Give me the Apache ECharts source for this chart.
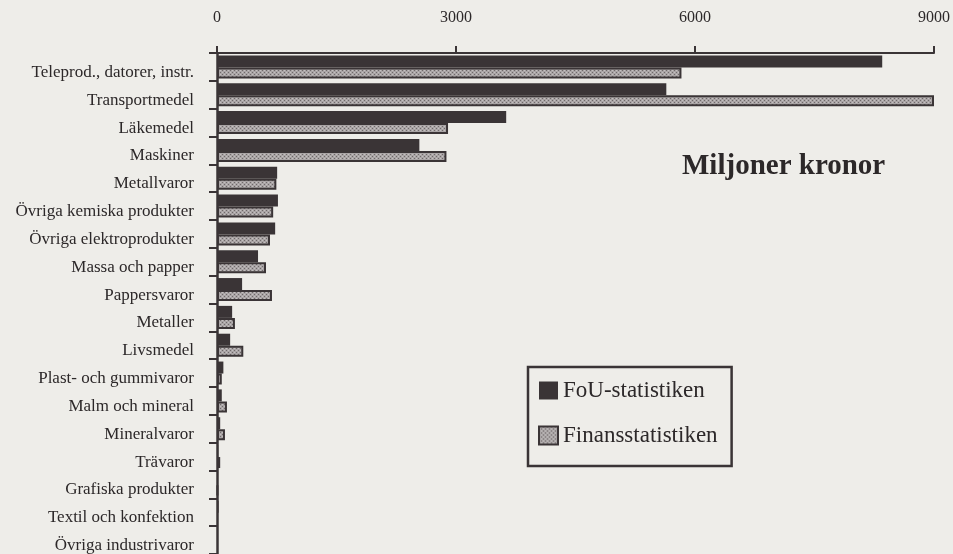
<!DOCTYPE html>
<html>
<head>
<meta charset="utf-8">
<script src="https://cdn.jsdelivr.net/npm/echarts@6/dist/echarts.min.js"></script>
<style>
html,body{margin:0;padding:0;background:#eeede9;}
#chart{width:953px;height:554px;}
</style>
</head>
<body>
<div id="chart"></div>
<script>
var categories = ['Teleprod., datorer, instr.','Transportmedel','Läkemedel','Maskiner','Metallvaror','Övriga kemiska produkter','Övriga elektroprodukter','Massa och papper','Pappersvaror','Metaller','Livsmedel','Plast- och gummivaror','Malm och mineral','Mineralvaror','Trävaror','Grafiska produkter','Textil och konfektion','Övriga industrivaror'];
var fouValues = [8350, 5640, 3630, 2540, 755, 765, 730, 515, 315, 190, 165, 80, 60, 40, 15, 10, 20, -30];
var finansValues = [5830, 9000, 2900, 2880, 745, 705, 665, 615, 690, 225, 330, 60, 125, 100, 40, 10, -50, -10];
var xTicks = [0, 3000, 6000, 9000];
var seriesNames = ['FoU-statistiken', 'Finansstatistiken'];
var unitTitle = 'Miljoner kronor';

var dark = '#3a3436';
var textColor = '#2c2829';
var font = '"Liberation Serif", "DejaVu Serif", serif';

var pc = document.createElement('canvas');
pc.width = 4; pc.height = 4;
var g = pc.getContext('2d');
g.fillStyle = '#a9a4a5'; g.fillRect(0,0,4,4);
g.fillStyle = '#6f696a';
g.fillRect(0,0,1,1); g.fillRect(2,2,1,1);
g.fillStyle = '#c4c0c0';
g.fillRect(2,0,1,1); g.fillRect(0,2,1,1);

var chart = echarts.init(document.getElementById('chart'), null, {renderer:'canvas'});
chart.setOption({
  backgroundColor: '#eeede9',
  animation: false,
  grid: {left: 217, right: 17, top: 53, height: 502, containLabel: false},
  title: {
    text: unitTitle, left: 677, top: 147,
    textStyle: {fontFamily: font, fontSize: 29, fontWeight: 'bold', color: textColor}
  },
  legend: {
    orient: 'vertical', left: 528, top: 367,
    padding: [12, 14, 19, 10],
    itemWidth: 19, itemHeight: 18, itemGap: 22,
    icon: 'rect',
    borderColor: dark, borderWidth: 2.5,
    textStyle: {fontFamily: font, fontSize: 23, color: textColor},
    data: seriesNames
  },
  xAxis: {
    type: 'value', position: 'top', min: 0, max: 9000, interval: 3000,
    splitLine: {show: false},
    axisLine: {show: true, lineStyle: {color: dark, width: 2}},
    axisTick: {show: true, length: 7, lineStyle: {color: dark, width: 2}},
    axisLabel: {fontFamily: font, fontSize: 16, color: textColor, margin: 27,
      formatter: function(v){ return xTicks.indexOf(v) >= 0 ? String(v) : ''; }}
  },
  yAxis: {
    type: 'category', inverse: true, data: categories,
    axisLine: {show: true, onZero: false, lineStyle: {color: dark, width: 2.5}},
    axisTick: {show: true, length: 8, lineStyle: {color: dark, width: 2}},
    axisLabel: {fontFamily: font, fontSize: 17, color: textColor, margin: 23,
      verticalAlign: 'top', lineHeight: 11}
  },
  series: [
    {
      name: seriesNames[0], type: 'bar', data: fouValues,
      barWidth: 12, barGap: '0%',
      itemStyle: {color: dark}
    },
    {
      name: seriesNames[1], type: 'bar', data: finansValues,
      barWidth: 11, barGap: '0%',
      itemStyle: {color: {image: pc, repeat: 'repeat'}, borderColor: dark, borderWidth: 2}
    }
  ]
});
</script>
</body>
</html>
